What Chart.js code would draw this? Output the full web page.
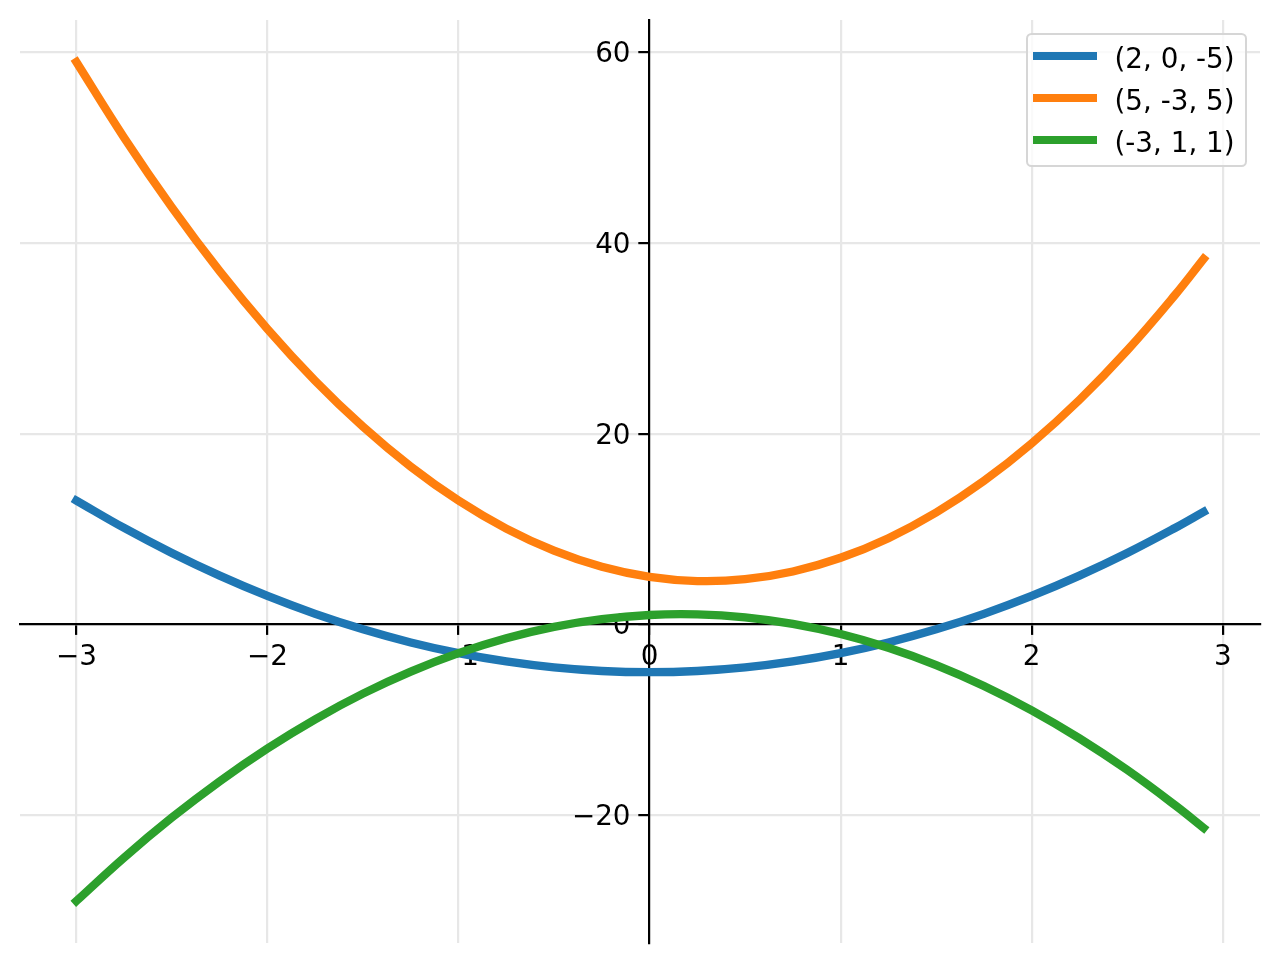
<!DOCTYPE html>
<html>
<head>
<meta charset="utf-8">
<script src="https://cdn.jsdelivr.net/npm/chart.js@4/dist/chart.umd.min.js"></script>
<style>
  html, body { margin: 0; padding: 0; background: #ffffff; }
  #wrap { position: relative; width: 1280px; height: 964px; }
  canvas { display: block; }
  #legend {
    position: absolute; left: 1026px; top: 33px; width: 221px; height: 134px;
    box-sizing: border-box; border: 2.7px solid #d6d6d6; border-radius: 5.5px;
    background: rgba(255,255,255,0.8);
    font-family: "DejaVu Sans", sans-serif; font-size: 27.8px; color: #000;
  }
  .row { position: relative; height: 42px; }
  .swatch { position: absolute; left: 4.5px; top: 16.8px; width: 64px; height: 8.3px; }
  .txt { position: absolute; left: 86.5px; top: 3px; line-height: 42px; white-space: nowrap; }
</style>
</head>
<body>
<div id="wrap">
  <canvas id="c" width="1280" height="964" style="width:1280px;height:964px"></canvas>
  <div id="legend"></div>
</div>
<script>
// ---- data ----
const xValues      = [-3, -2.75, -2.5, -2.25, -2, -1.75, -1.5, -1.25, -1, -0.75, -0.5, -0.25, 0, 0.25, 0.5, 0.75, 1, 1.25, 1.5, 1.75, 2, 2.25, 2.5, 2.75, 2.9];
const blueValues   = [13, 10.125, 7.5, 5.125, 3, 1.125, -0.5, -1.875, -3, -3.875, -4.5, -4.875, -5, -4.875, -4.5, -3.875, -3, -1.875, -0.5, 1.125, 3, 5.125, 7.5, 10.125, 11.82];
const orangeValues = [59, 51.06, 43.75, 37.06, 31, 25.56, 20.75, 16.56, 13, 10.06, 7.75, 6.06, 5, 4.56, 4.75, 5.56, 7, 9.06, 11.75, 15.06, 19, 23.56, 28.75, 34.56, 38.35];
const greenValues  = [-29, -24.44, -20.25, -16.44, -13, -9.94, -7.25, -4.94, -3, -1.44, -0.25, 0.56, 1, 1.06, 0.75, 0.06, -1, -2.44, -4.25, -6.44, -9, -11.94, -15.25, -18.94, -21.33];
const seriesLabels = ['(2, 0, -5)', '(5, -3, 5)', '(-3, 1, 1)'];
const seriesColors = ['#1f77b4', '#ff7f0e', '#2ca02c'];
const xTicks = [-3, -2, -1, 0, 1, 2, 3];
const yTicks = [-20, 0, 20, 40, 60];
const xMin = -3.295, xMax = 3.195;
const yMin = -33.4, yMax = 63.4;

const FONT = { family: 'DejaVu Sans', size: 27.8 };
const TICK_LEN = 9.7;
const Y_LABEL_GAP = 19;
const Y_LABEL_DROP = 2.5;

Chart.defaults.color = '#000';
Chart.defaults.font.family = 'DejaVu Sans';

const seriesValues = [blueValues, orangeValues, greenValues];
const datasets = seriesValues.map((vals, i) => ({
  label: seriesLabels[i],
  data: xValues.map((x, j) => ({ x: x, y: vals[j] })),
  borderColor: seriesColors[i],
  backgroundColor: seriesColors[i],
  borderWidth: 8.3,
  borderCapStyle: 'square',
  borderJoinStyle: 'round',
  pointRadius: 0,
  tension: 0.4,
  fill: false,
  order: 3 - i
}));

const fmt = v => String(v).replace('-', '\u2212');

const shiftYLabels = {
  id: 'shiftYLabels',
  beforeDraw(chart) {
    const s = chart.scales.y;
    const items = s.getLabelItems(chart.chartArea);
    if (!items.__shifted) {
      items.forEach(it => {
        it.options.translation[0] -= Y_LABEL_GAP;
        it.options.translation[1] += Y_LABEL_DROP;
      });
      items.__shifted = true;
    }
  }
};

const chart = new Chart(document.getElementById('c'), {
  type: 'line',
  data: { datasets: datasets },
  plugins: [shiftYLabels],
  options: {
    responsive: false,
    devicePixelRatio: 1,
    animation: false,
    layout: { padding: { left: 20, right: 20, top: 20, bottom: 21 } },
    plugins: { legend: { display: false }, tooltip: { enabled: false } },
    scales: {
      x: {
        type: 'linear',
        min: xMin, max: xMax,
        position: { y: 0 },
        afterBuildTicks: s => { s.ticks = xTicks.map(v => ({ value: v })); },
        afterFit: s => { s.height = 0; },
        ticks: { autoSkip: false, maxRotation: 0, padding: 6.5, font: FONT, color: '#000', callback: fmt },
        grid: { color: '#e7e7e7', lineWidth: 2.2, drawTicks: true, tickLength: TICK_LEN, tickColor: '#000', tickWidth: 2.2 },
        border: { display: true, color: '#000', width: 2.2 }
      },
      y: {
        type: 'linear',
        min: yMin, max: yMax,
        position: { x: 0 },
        afterBuildTicks: s => { s.ticks = yTicks.map(v => ({ value: v })); },
        afterFit: s => { s.width = 0; },
        ticks: { autoSkip: false, font: FONT, color: '#000', callback: fmt },
        grid: { color: '#e7e7e7', lineWidth: 2.2, drawTicks: true, tickLength: TICK_LEN, tickColor: '#000', tickWidth: 2.2 },
        border: { display: true, color: '#000', width: 2.2 }
      }
    }
  }
});

// legend built from the chart's datasets
const legend = document.getElementById('legend');
chart.data.datasets.forEach(ds => {
  const row = document.createElement('div');
  row.className = 'row';
  const sw = document.createElement('div');
  sw.className = 'swatch';
  sw.style.background = ds.borderColor;
  const t = document.createElement('span');
  t.className = 'txt';
  t.textContent = ds.label;
  row.appendChild(sw);
  row.appendChild(t);
  legend.appendChild(row);
});
</script>
</body>
</html>
